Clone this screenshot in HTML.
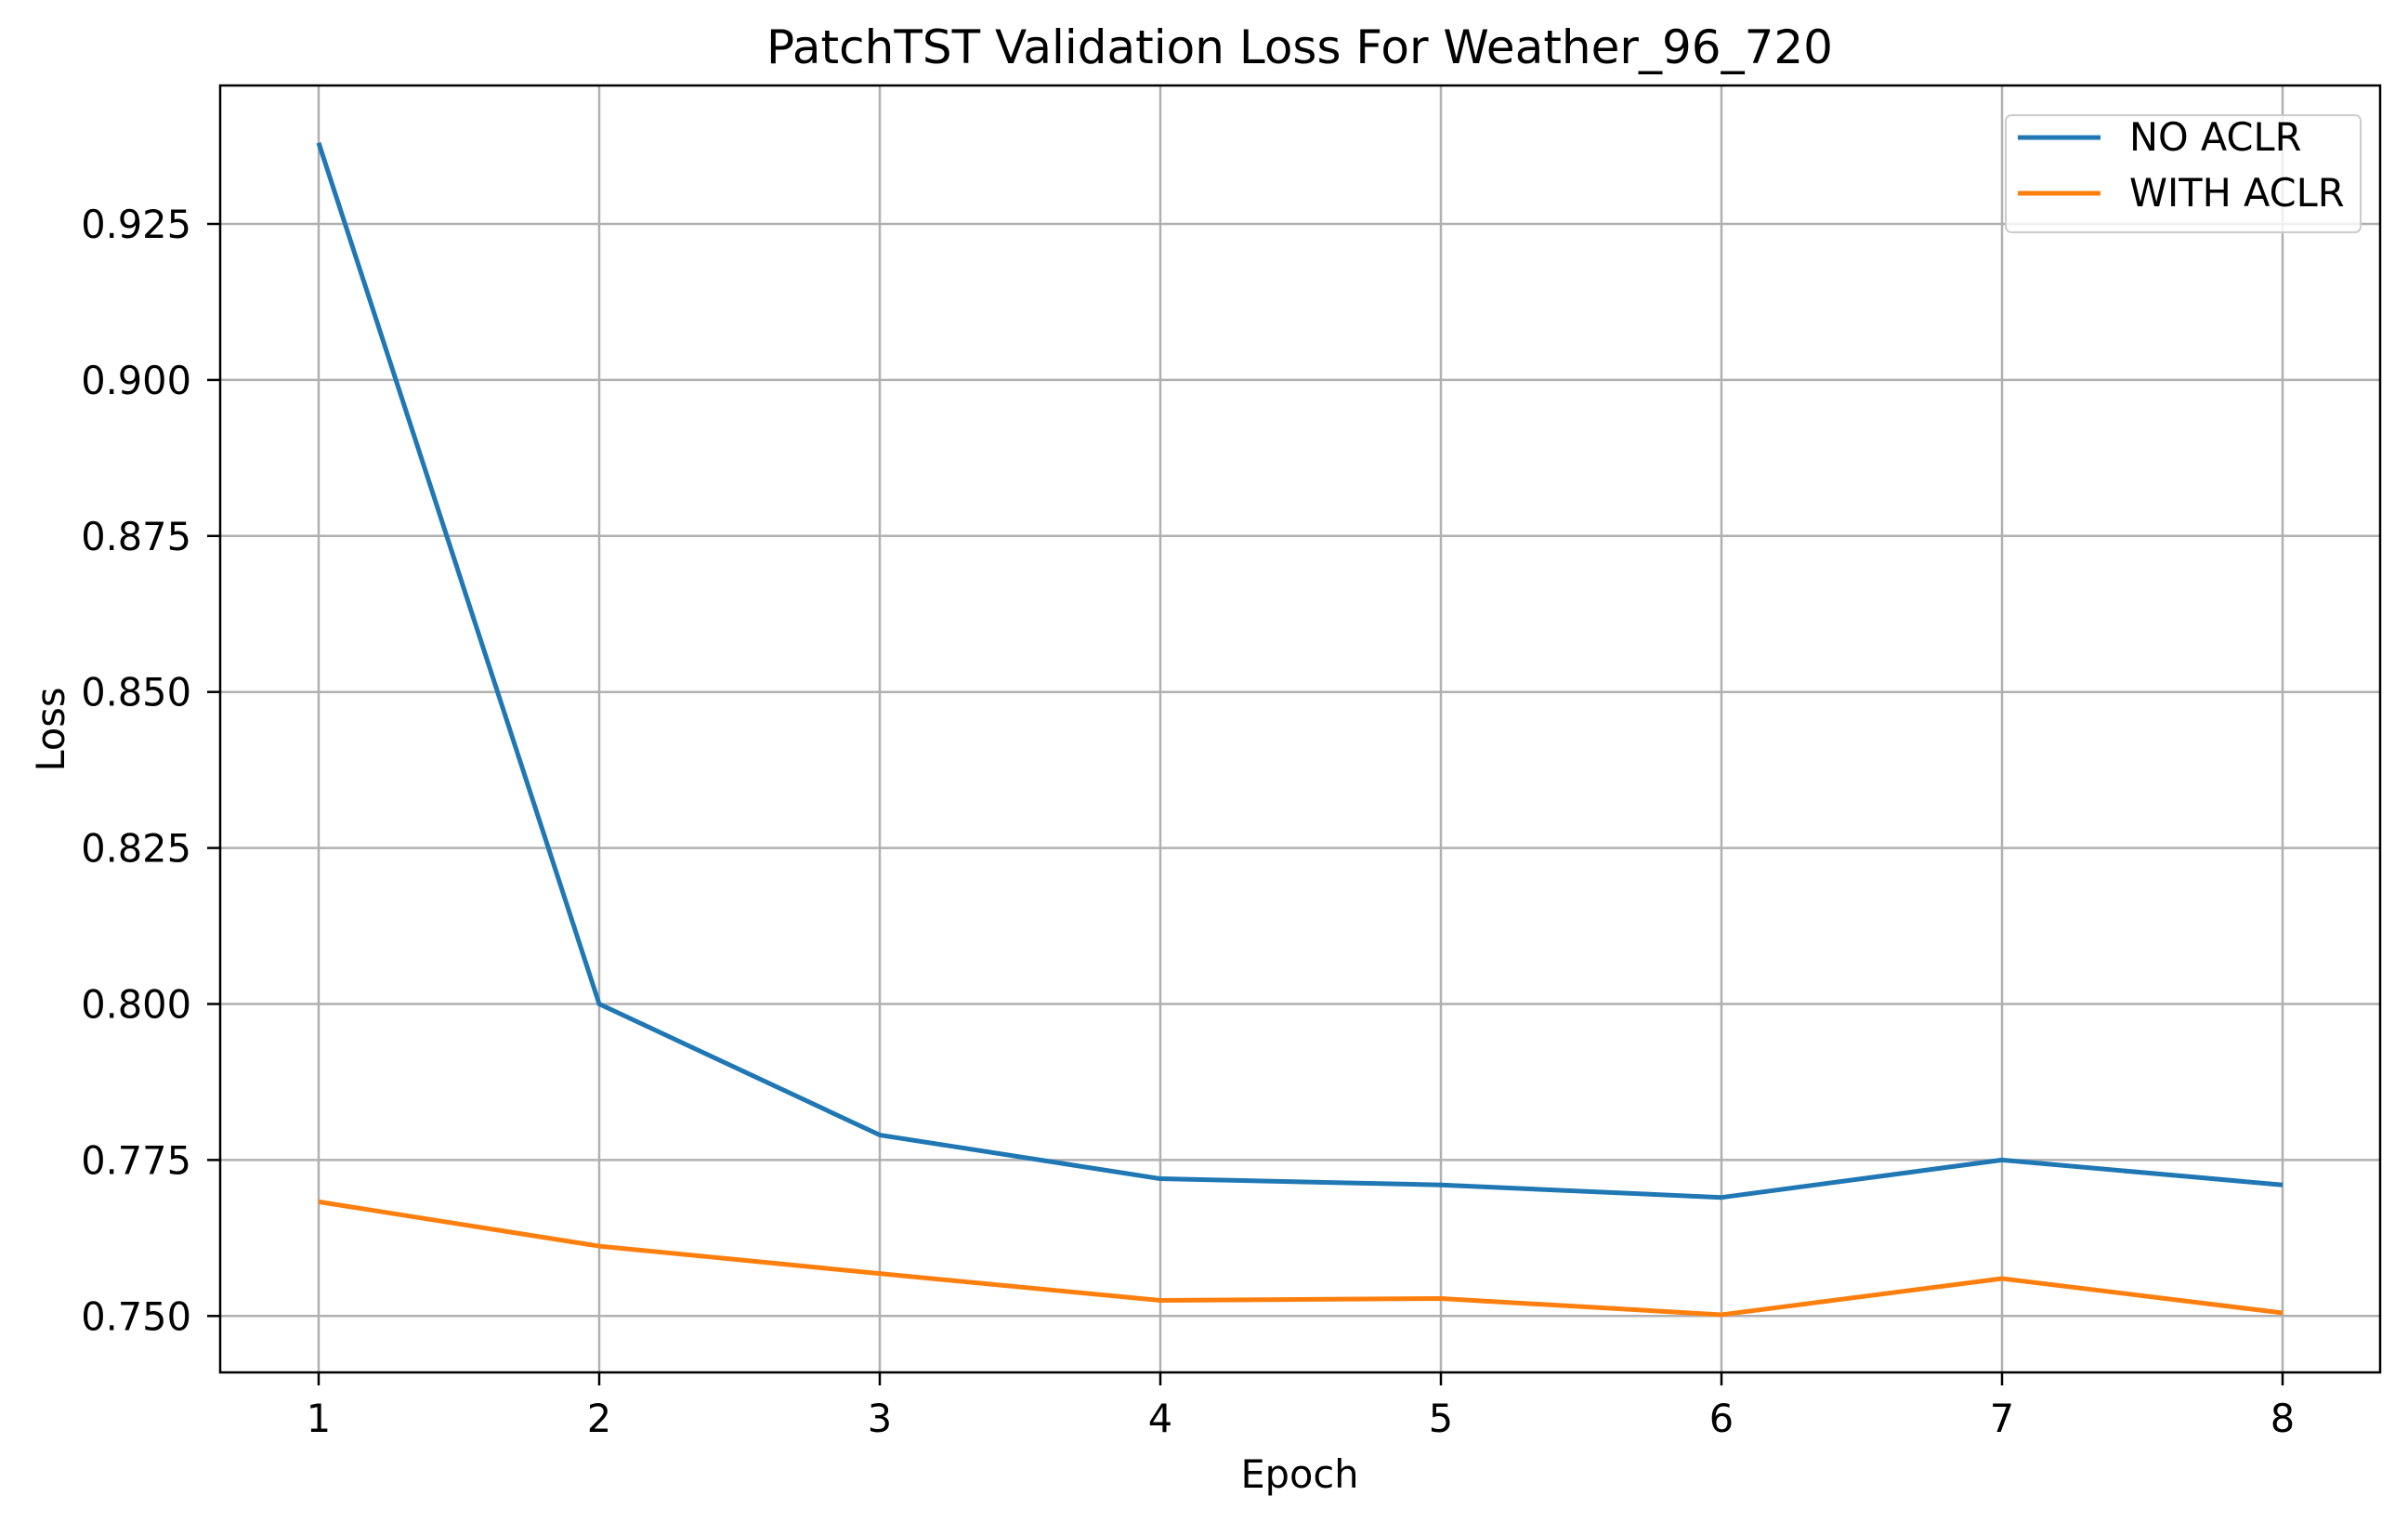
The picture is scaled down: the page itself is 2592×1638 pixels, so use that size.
<!DOCTYPE html>
<html><head><meta charset="utf-8"><style>
html,body{margin:0;padding:0;background:#fff}
svg{display:block;font-family:"DejaVu Sans","Liberation Sans",sans-serif}
</style></head><body>
<svg id="chart" width="2592" height="1638" viewBox="0 0 2592 1638" xmlns="http://www.w3.org/2000/svg">
<rect width="2592" height="1638" fill="#fff"/>
<text x="1399" y="68" font-size="50" text-anchor="middle">PatchTST Validation Loss For Weather_96_720</text>
<g id="grid"></g>
<g id="series"></g>
<rect x="237" y="92" width="2325" height="1385" fill="none" stroke="#000" stroke-width="2.5"/>
<g id="ticks"></g>
<text x="1399" y="1601" font-size="41.5" text-anchor="middle">Epoch</text>
<text transform="translate(69,785) rotate(-90)" font-size="41.5" text-anchor="middle">Loss</text>
<g>
<rect x="2159" y="124" width="382" height="126" rx="6" fill="#fff" fill-opacity="0.8" stroke="#ccc" stroke-width="2"/>
<line x1="2172" y1="148" x2="2261" y2="148" stroke="#1f77b4" stroke-width="5"/>
<text x="2292" y="162" font-size="41.5">NO ACLR</text>
<line x1="2172" y1="208" x2="2261" y2="208" stroke="#ff7f0e" stroke-width="5"/>
<text x="2292" y="222" font-size="41.5">WITH ACLR</text>
</g>
</svg>
<script>
const epochs = [1,2,3,4,5,6,7,8];
const noAclr = [0.938,0.800,0.779,0.772,0.771,0.769,0.775,0.771];
const withAclr = [0.7683,0.7612,0.7568,0.7525,0.7528,0.7502,0.7560,0.7505];
const yTicks = [0.750,0.775,0.800,0.825,0.850,0.875,0.900,0.925];
const yTickLabels = ["0.750","0.775","0.800","0.825","0.850","0.875","0.900","0.925"];

const NS="http://www.w3.org/2000/svg";
function xs(e){return 343+(e-1)*302;}
function ys(v){return 1416.3-(v-0.75)*6716;}
const grid=document.getElementById('grid'), ticks=document.getElementById('ticks'), series=document.getElementById('series');
function mk(tag,attrs,parent){const el=document.createElementNS(NS,tag);for(const k in attrs)el.setAttribute(k,attrs[k]);parent.appendChild(el);return el;}
epochs.forEach(e=>{
  const x=xs(e);
  const g=mk('line',{x1:x,y1:92,x2:x,y2:1477,stroke:'#b0b0b0','stroke-width':2.5},grid);
  
  
  const t=mk('line',{x1:x,y1:1477,x2:x,y2:1491,stroke:'#000','stroke-width':2.5},ticks);
  
  
  const l=mk('text',{x:x,y:1541,'font-size':41.5,'text-anchor':'middle'},ticks);
  l.textContent=String(e);
  
  
});
yTicks.forEach((v,i)=>{
  const y=ys(v);
  const g=mk('line',{x1:237,y1:y,x2:2562,y2:y,stroke:'#b0b0b0','stroke-width':2.5},grid);
  
  
  const t=mk('line',{x1:223,y1:y,x2:237,y2:y,stroke:'#000','stroke-width':2.5},ticks);
  
  
  const l=mk('text',{x:206,y:y+15,'font-size':41.5,'text-anchor':'end'},ticks);
  l.textContent=yTickLabels[i];
  
  
});
function line(vals,color,name){
  const p=mk('polyline',{points:vals.map((v,i)=>xs(epochs[i])+','+ys(v)).join(' '),fill:'none',stroke:color,'stroke-width':5,'stroke-linejoin':'round'},series);
  
  
}
line(noAclr,'#1f77b4','no-aclr-line');
line(withAclr,'#ff7f0e','with-aclr-line');
</script>
</body></html>
